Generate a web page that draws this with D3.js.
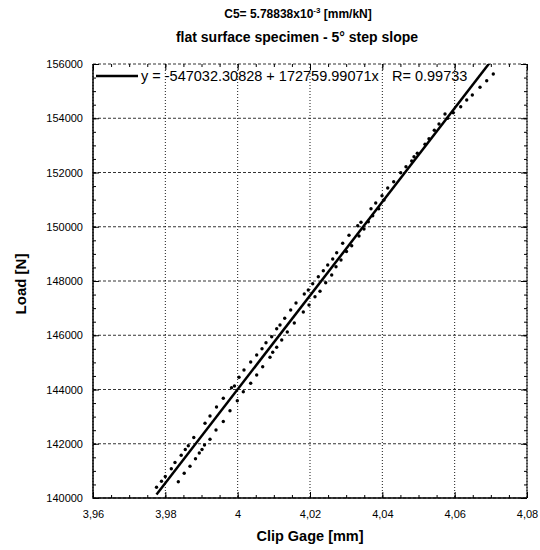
<!DOCTYPE html>
<html>
<head>
<meta charset="utf-8">
<script src="https://cdn.jsdelivr.net/npm/d3@7"></script>
<style>
  body { margin: 0; background: #fff; }
  svg text { font-family: "Liberation Sans", Arial, Helvetica, sans-serif; fill: #000; }
</style>
</head>
<body>
<div id="chart"></div>
<script>
// measured points: clip gage [mm] / load [N]
var clipGage = [3.97756, 3.97894, 3.97999, 3.98165, 3.98267, 3.98359, 3.98439, 3.98522, 3.98552, 3.98635,
                3.98682, 3.98787, 3.98834, 3.98939, 3.99014, 3.99083, 3.99097, 3.99235, 3.99235, 3.99415,
                3.99401, 3.99603, 3.99603, 3.99788, 3.99830, 3.99912, 3.99990, 4.00037, 4.00175, 4.00156,
                4.00360, 4.00360, 4.00526, 4.00526, 4.00673, 4.00692, 4.00783, 4.00894, 4.00941, 4.00969,
                4.01079, 4.01079, 4.01171, 4.01218, 4.01301, 4.01372, 4.01466, 4.01566, 4.01613, 4.01815,
                4.01842, 4.01953, 4.01972, 4.02075, 4.02138, 4.02230, 4.02277, 4.02368, 4.02434, 4.02490,
                4.02600, 4.02628, 4.02719, 4.02738, 4.02857, 4.02904, 4.03009, 4.03078, 4.03153, 4.03319,
                4.03355, 4.03410, 4.03493, 4.03612, 4.03687, 4.03734, 4.03817, 4.03900, 4.03991, 4.04046,
                4.04149, 4.04314, 4.04508, 4.04654, 4.04812, 4.04876, 4.04967, 4.05180, 4.05290, 4.05437,
                4.05567, 4.05733, 4.05807, 4.05962, 4.06167, 4.06333, 4.06488, 4.06701, 4.06886, 4.07068];

var load = [140394, 140616, 140793, 141076, 141309, 140601, 141574, 140911, 141788, 141924,
            141169, 142230, 141449, 141659, 141788, 141954, 142754, 143023, 142164, 143355,
            142507, 143676, 142820, 143218, 144063, 144129, 143583, 144450, 144719, 143919,
            145014, 144229, 145272, 144535, 145504, 144841, 145725, 145187, 145947, 145371,
            145556, 146241, 146378, 145825, 146625, 146120, 146931, 146452, 147189, 146857,
            147521, 147668, 147115, 147900, 147421, 148159, 147620, 148380, 147937, 148590,
            148221, 148811, 148527, 149043, 148774, 149390, 149087, 149685, 149301, 150039,
            149659, 150164, 149917, 150186, 150665, 150407, 150875, 150665, 151145, 150986,
            151428, 151661, 151993, 152214, 152424, 152582, 152708, 153040, 153246, 153556,
            153788, 154157, 153998, 154205, 154426, 154673, 154857, 155141, 155384, 155631];

// linear fit y = a + b*x
var fitA = -547032.30828;
var fitB = 172759.99071;
var fitR = 0.99733;

var xTicks = [3.96, 3.98, 4.00, 4.02, 4.04, 4.06, 4.08];
var xTickLabels = ["3,96", "3,98", "4", "4,02", "4,04", "4,06", "4,08"];
var yTicks = [140000, 142000, 144000, 146000, 148000, 150000, 152000, 154000, 156000];
var yTickLabels = ["140000", "142000", "144000", "146000", "148000", "150000", "152000", "154000", "156000"];

function chart() {
  var w = 540;
  var h = 550;
  var left = 93, right = 527, top = 64, bottom = 498;

  var svg = d3.select("#chart")
              .append("svg")
              .attr("width", w)
              .attr("height", h);

  var x = d3.scaleLinear().domain([3.96, 4.08]).range([left, right]);
  var y = d3.scaleLinear().domain([140000, 156000]).range([bottom, top]);

  // minor tick positions
  var minorX = d3.range(0, 25).map(function(i) { return 3.96 + i * 0.005; });
  var minorY = d3.range(0, 33).map(function(i) { return 140000 + i * 500; });

  // grid: dashed horizontal, dotted vertical
  svg.append("g").selectAll("line")
     .data(yTicks)
     .enter().append("line")
     .attr("x1", left).attr("x2", right)
     .attr("y1", function(d) { return y(d); })
     .attr("y2", function(d) { return y(d); })
     .attr("stroke", "#000")
     .attr("stroke-width", 0.8)
     .attr("stroke-dasharray", "3,2");

  svg.append("g").selectAll("line")
     .data(xTicks)
     .enter().append("line")
     .attr("x1", function(d) { return x(d); })
     .attr("x2", function(d) { return x(d); })
     .attr("y1", top).attr("y2", bottom)
     .attr("stroke", "#000")
     .attr("stroke-width", 0.9)
     .attr("stroke-dasharray", "1,2");

  // ticks (inward) on all four sides
  function ticks(axis, vals, size, tr) {
    var g = svg.append("g")
               .attr("transform", tr)
               .call(axis.tickValues(vals).tickSize(-size).tickSizeOuter(0).tickFormat(""));
    g.select(".domain").remove();
    g.selectAll("line").attr("stroke-width", 1);
  }
  ticks(d3.axisBottom(x), minorX, 3, "translate(0," + bottom + ")");
  ticks(d3.axisTop(x), minorX, 3, "translate(0," + top + ")");
  ticks(d3.axisLeft(y), minorY, 3, "translate(" + left + ",0)");
  ticks(d3.axisRight(y), minorY, 3, "translate(" + right + ",0)");
  ticks(d3.axisBottom(x), xTicks, 6, "translate(0," + bottom + ")");
  ticks(d3.axisTop(x), xTicks, 6, "translate(0," + top + ")");
  ticks(d3.axisLeft(y), yTicks, 6, "translate(" + left + ",0)");
  ticks(d3.axisRight(y), yTicks, 6, "translate(" + right + ",0)");

  // tick labels
  var xl = svg.append("g")
              .attr("transform", "translate(0," + bottom + ")")
              .call(d3.axisBottom(x).tickValues(xTicks).tickSize(0).tickPadding(12)
                    .tickFormat(function(d, i) { return xTickLabels[i]; }));
  xl.select(".domain").remove();
  xl.selectAll("text").style("font-size", "11px").style("font-family", "'Liberation Sans', Arial, sans-serif");

  var yl = svg.append("g")
              .attr("transform", "translate(" + left + ",0)")
              .call(d3.axisLeft(y).tickValues(yTicks).tickSize(0).tickPadding(10)
                    .tickFormat(function(d, i) { return yTickLabels[i]; }));
  yl.select(".domain").remove();
  yl.selectAll("text").style("font-size", "11px").style("font-family", "'Liberation Sans', Arial, sans-serif");

  // frame
  svg.append("line").attr("x1", right).attr("x2", right).attr("y1", top).attr("y2", bottom)
     .attr("stroke", "#000").attr("stroke-width", 1);
  svg.append("line").attr("x1", left).attr("x2", left).attr("y1", top).attr("y2", bottom + 0.75)
     .attr("stroke", "#000").attr("stroke-width", 1.5);
  svg.append("line").attr("x1", left).attr("x2", right).attr("y1", bottom).attr("y2", bottom)
     .attr("stroke", "#000").attr("stroke-width", 1.5);

  // clip for fit line
  svg.append("clipPath").attr("id", "plot")
     .append("rect").attr("x", left).attr("y", top)
     .attr("width", right - left).attr("height", bottom - top);

  var xr = d3.extent(clipGage);
  var fitLine = d3.line()
                  .x(function(d) { return x(d); })
                  .y(function(d) { return y(fitA + fitB * d); });
  svg.append("path")
     .datum(xr)
     .attr("clip-path", "url(#plot)")
     .attr("d", fitLine)
     .attr("fill", "none")
     .attr("stroke", "#000")
     .attr("stroke-width", 2.5);

  // data points
  svg.append("g").selectAll("circle")
     .data(clipGage)
     .enter().append("circle")
     .attr("cx", function(d) { return x(d); })
     .attr("cy", function(d, i) { return y(load[i]); })
     .attr("r", 1.7)
     .attr("fill", "#000");

  // legend
  svg.append("line").attr("x1", 96).attr("x2", 138).attr("y1", 76).attr("y2", 76)
     .attr("stroke", "#000").attr("stroke-width", 2.5);
  svg.append("text").attr("x", 141).attr("y", 81).style("font-size", "14.5px")
     .text("y = " + fitA.toFixed(5) + " + " + fitB.toFixed(5) + "x");
  svg.append("text").attr("x", 392).attr("y", 81).style("font-size", "14.5px")
     .text("R= " + fitR.toFixed(5));

  // titles
  var t1 = svg.append("text").attr("x", 298).attr("y", 18)
              .attr("text-anchor", "middle")
              .style("font-size", "12px").style("font-weight", "bold");
  t1.append("tspan").text("C5= 5.78838x10");
  t1.append("tspan").attr("dy", -5).style("font-size", "8px").text("-3");
  t1.append("tspan").attr("dy", 5).text(" [mm/kN]");

  svg.append("text").attr("x", 297).attr("y", 42)
     .attr("text-anchor", "middle")
     .style("font-size", "14px").style("font-weight", "bold")
     .text("flat surface specimen - 5\u00b0 step slope");

  // axis titles
  svg.append("text").attr("x", (left + right) / 2).attr("y", 541)
     .attr("text-anchor", "middle")
     .style("font-size", "14.5px").style("font-weight", "bold")
     .text("Clip Gage [mm]");
  svg.append("text")
     .attr("transform", "translate(26," + ((top + bottom) / 2 + 3) + ") rotate(-90)")
     .attr("text-anchor", "middle")
     .style("font-size", "15px").style("font-weight", "bold")
     .text("Load [N]");
}

window.onload = function() {
  chart();
};
</script>
</body>
</html>
